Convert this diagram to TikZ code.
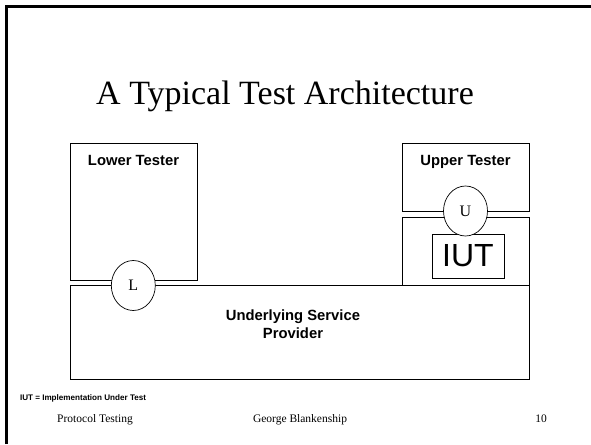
\documentclass[tikz,border=0pt]{standalone}
\usepackage{fontspec}
\setmainfont{Liberation Serif}
\setsansfont{Liberation Sans}
\usetikzlibrary{shapes, positioning}
\tikzset{
	every node/.style={
		inner sep=0pt,
		outer sep=0pt
	},
	block/.style={
		shape=rectangle,
		draw,
		line width=0.8pt,
		anchor=north west
	},
	heading/.style={
		font=\fontsize{14.8}{18}\sffamily\bfseries,
		anchor=base,
		align=center
	},
	port/.style={
		shape=ellipse,
		draw,
		fill=white,
		line width=0.7pt,
		minimum width=44pt,
		minimum height=50pt,
		font=\fontsize{16}{18}\selectfont
	},
	footer/.style={
		font=\fontsize{11.5}{13}\selectfont,
		anchor=base
	}
}

\begin{document}
\begin{tikzpicture}[x=1pt, y=-1pt]
	\useasboundingbox (0,0) rectangle (591,444);
	
	% slide frame
	\draw[line width=3pt] (6.5,444) -- (6.5,6.5) -- (591,6.5);
	
	\node[anchor=base, font=\fontsize{34}{38}\selectfont] (title) at (285,104) {A Typical Test Architecture};
	
	% testers
	\node[block, minimum width=127pt, minimum height=137pt] (lower) at (70,143) {};
	\node[heading] (lowerlabel) at (133.5,165) {Lower Tester};
	\node[block, minimum width=127pt, minimum height=68pt] (upper) at (402,143) {};
	\node[heading] (upperlabel) at (465.5,165) {Upper Tester};
	
	% implementation
	\node[block, minimum width=127pt, minimum height=68pt] (iutbox) at (402,217) {};
	\node[block, minimum width=72pt, minimum height=44pt, font=\fontsize{32}{34}\sffamily] (iut) at (432,234) {IUT};
	
	% service provider
	\node[block, minimum width=459pt, minimum height=94pt] (usp) at (70,285) {};
	\node[heading] (usplabel) at (293,338) {Underlying Service\\Provider};
	
	% points of control and observation
	\node[port] (L) at (133.3,285.5) {L};
	\node[port] (U) at (465.5,211) {U};
	
	\node[anchor=base west, font=\fontsize{8.1}{9}\sffamily\bfseries] (iutnote) at (20,400) {IUT = Implementation Under Test};
	
	% footer
	\node[footer] (course) at (95,422) {Protocol Testing};
	\node[footer] (author) at (300,422) {George Blankenship};
	\node[footer] (page) at (541,422) {10};
	
\end{tikzpicture}
\end{document}
